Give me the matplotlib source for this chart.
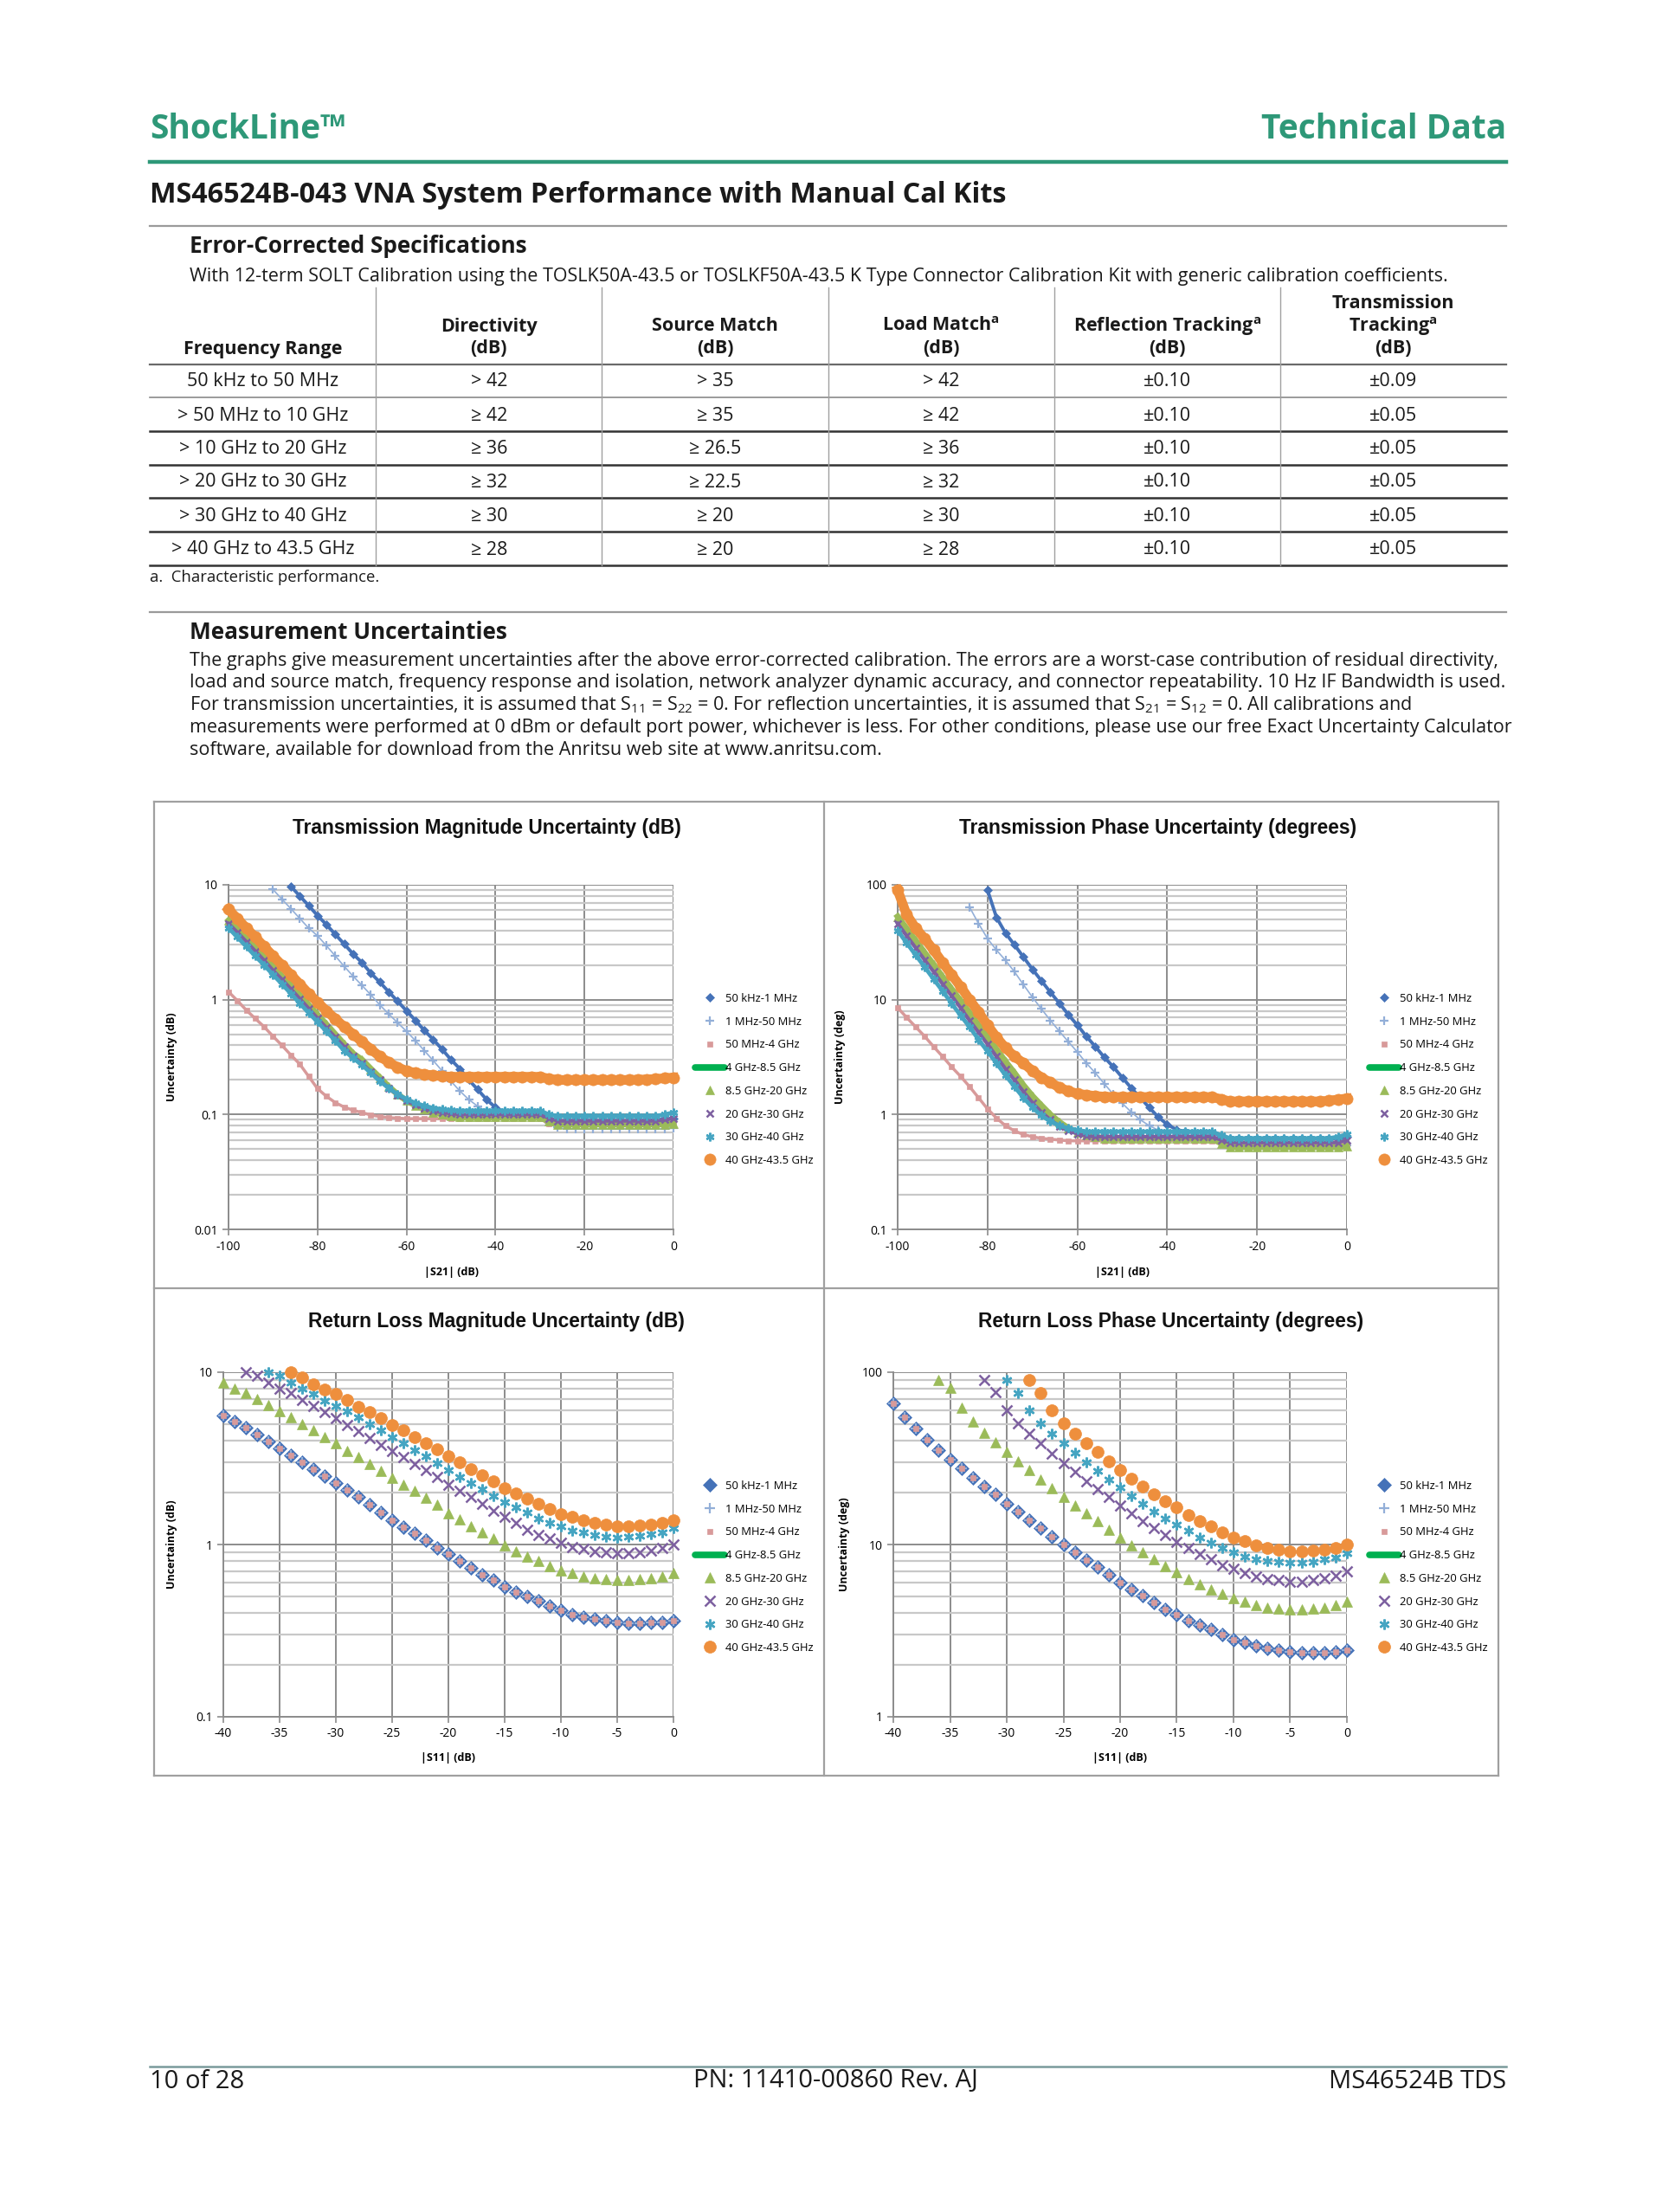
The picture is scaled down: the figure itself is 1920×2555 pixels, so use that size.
import numpy as np
import matplotlib as mpl
mpl.use('Agg')
import matplotlib.pyplot as plt
import matplotlib.ticker as mticker
from matplotlib.lines import Line2D

nan = np.nan

# ---------------------------------------------------------------- table data
freq_range = ["50 kHz to 50 MHz", "> 50 MHz to 10 GHz", "> 10 GHz to 20 GHz",
              "> 20 GHz to 30 GHz", "> 30 GHz to 40 GHz", "> 40 GHz to 43.5 GHz"]
directivity = ["> 42", "≥ 42", "≥ 36", "≥ 32", "≥ 30", "≥ 28"]
source_match = ["> 35", "≥ 35", "≥ 26.5", "≥ 22.5", "≥ 20", "≥ 20"]
load_match = ["> 42", "≥ 42", "≥ 36", "≥ 32", "≥ 30", "≥ 28"]
refl_tracking = ["±0.10", "±0.10", "±0.10", "±0.10", "±0.10", "±0.10"]
trans_tracking = ["±0.09", "±0.05", "±0.05", "±0.05", "±0.05", "±0.05"]

# ---------------------------------------------------------------- chart data
series_names = ["50 kHz-1 MHz", "1 MHz-50 MHz", "50 MHz-4 GHz", "4 GHz-8.5 GHz",
                "8.5 GHz-20 GHz", "20 GHz-30 GHz", "30 GHz-40 GHz", "40 GHz-43.5 GHz"]

# transmission: |S21| from -100 to 0 dB, 2 dB steps
s21_db = np.arange(-100, 1, 2)

tm_50k = [nan] * 7 + [9.7, 8.0, 6.6, 5.4, 4.5, 3.7, 3.05, 2.5, 2.1, 1.7, 1.42, 1.17, 0.97, 0.8,
                      0.66, 0.54, 0.45, 0.37, 0.3, 0.25, 0.2, 0.165, 0.135, 0.115, 0.105, 0.1,
                      0.1, 0.1, 0.1, 0.092] + [0.088] * 10 + [0.089, 0.09, 0.091, 0.093]
tm_1m = [nan] * 5 + [9.1, 7.5, 6.2, 5.1, 4.2, 3.6, 2.95, 2.4, 1.95, 1.6, 1.33, 1.1, 0.9, 0.75,
                     0.63, 0.53, 0.44, 0.36, 0.295, 0.24, 0.195, 0.16, 0.135, 0.118, 0.106, 0.1,
                     0.097, 0.096, 0.096, 0.096, 0.095, 0.085, 0.077] + [0.075] * 12 + [0.076]
tm_50m = [1.17, 0.98, 0.81, 0.685, 0.58, 0.48, 0.4, 0.33, 0.275, 0.215, 0.168, 0.144, 0.127,
          0.116, 0.109, 0.104, 0.099, 0.096, 0.094, 0.093] + [0.092] * 16 + [0.083] * 15
tm_8g = [4.9, 4.1, 3.4, 2.85, 2.35, 1.95, 1.6, 1.33, 1.1, 0.9, 0.74, 0.61, 0.5, 0.41, 0.34,
         0.3, 0.25, 0.21, 0.175, 0.15, 0.132, 0.12, 0.112, 0.105, 0.1, 0.097] + [0.095] * 10 + \
        [0.087] + [0.082] * 13 + [0.083]
tm_20g = [4.6, 3.85, 3.2, 2.65, 2.2, 1.8, 1.5, 1.24, 1.02, 0.84, 0.69, 0.57, 0.47, 0.39, 0.32,
          0.28, 0.235, 0.2, 0.17, 0.148, 0.132, 0.121, 0.114, 0.108, 0.104, 0.102] + [0.1] * 10 + \
         [0.093] + [0.088] * 12 + [0.09, 0.092]
tm_30g = [4.2, 3.5, 2.9, 2.4, 2.0, 1.65, 1.37, 1.13, 0.93, 0.77, 0.64, 0.53, 0.44, 0.36, 0.31,
          0.27, 0.23, 0.195, 0.17, 0.15, 0.136, 0.126, 0.119, 0.114, 0.111, 0.109] + [0.108] * 10 + \
         [0.1] + [0.097] * 12 + [0.1, 0.104]
tm_40g = [6.1, 5.07, 4.2, 3.5, 2.9, 2.4, 2.0, 1.65, 1.37, 1.13, 0.95, 0.8, 0.68, 0.58, 0.5, 0.43,
          0.37, 0.32, 0.285, 0.258, 0.24, 0.23, 0.224, 0.219, 0.216] + [0.213] * 11 + \
         [0.205] + [0.2] * 9 + [0.201, 0.202, 0.204, 0.207, 0.21]

tp_50k = [nan] * 10 + [90, 52, 38, 30, 23.5, 18.4, 14.6, 11.6, 9.3, 7.4, 6.0, 4.8, 3.9, 3.15, 2.6,
                       2.1, 1.7, 1.4, 1.15, 0.95, 0.82, 0.74, 0.71, 0.7, 0.7, 0.7, 0.65] + \
         [0.62] * 13 + [0.64]
tp_1m = [nan] * 8 + [64, 46, 34, 27, 22, 17.5, 13.5, 10.5, 8.3, 6.6, 5.3, 4.3, 3.5, 2.8, 2.3, 1.85,
                     1.5, 1.25, 1.05, 0.9, 0.8, 0.73, 0.7, 0.68, 0.68, 0.68, 0.68, 0.68, 0.6] + \
        [0.53] * 13 + [0.54]
tp_50m = [8.5, 7.0, 5.8, 4.8, 3.9, 3.2, 2.6, 2.15, 1.75, 1.4, 1.12, 0.93, 0.8, 0.72, 0.67, 0.64,
          0.62, 0.61, 0.6] + [0.59] * 17 + [0.55] * 15
tp_8g = [53, 41.6, 32.7, 25.7, 20.2, 15.8, 12.4, 9.8, 7.7, 6.0, 4.7, 3.7, 2.9, 2.3, 1.8, 1.45, 1.2,
         1.0, 0.86, 0.76, 0.7, 0.66, 0.64] + [0.62] * 13 + [0.56] + [0.52] * 13 + [0.53]
tp_20g = [46, 36, 28.3, 22.2, 17.5, 13.7, 10.8, 8.5, 6.6, 5.2, 4.1, 3.2, 2.5, 2.0, 1.58, 1.27, 1.05,
          0.9, 0.79, 0.72, 0.68, 0.65] + [0.64] * 14 + [0.6] + [0.57] * 13 + [0.6]
tp_30g = [40, 31.2, 24.5, 19.3, 15.1, 11.9, 9.3, 7.3, 5.8, 4.5, 3.55, 2.8, 2.2, 1.75, 1.4, 1.15,
          0.98, 0.87, 0.8, 0.76, 0.73] + [0.71] * 15 + [0.66] + [0.62] * 12 + [0.64, 0.67]
tp_40g = [90, 55, 42, 34, 27, 21, 16.5, 13, 10, 7.8, 6.0, 4.7, 3.8, 3.2, 2.8, 2.4, 2.1, 1.9, 1.72,
          1.6, 1.52, 1.48, 1.45, 1.43] + [1.42] * 12 + [1.36] + [1.3] * 11 + [1.32, 1.35, 1.38]

# return loss: |S11| from -40 to 0 dB, 1 dB steps
s11_db = np.arange(-40, 1, 1)

rlm_50k = [5.6, 5.17, 4.75, 4.33, 3.97, 3.62, 3.31, 3.01, 2.75, 2.5, 2.28,
           2.07, 1.88, 1.7, 1.54, 1.39, 1.26, 1.16, 1.06, 0.96, 0.88,
           0.8, 0.73, 0.67, 0.62, 0.57, 0.53, 0.5, 0.47, 0.44, 0.414,
           0.39, 0.38, 0.37, 0.36, 0.355, 0.35, 0.35, 0.352, 0.355, 0.36]
rlm_1m = rlm_50k
rlm_50m = rlm_50k
rlm_8g = [8.75, 8.04, 7.55, 7.0, 6.45, 5.95, 5.5, 5.0, 4.6, 4.2, 3.85,
          3.5, 3.2, 2.93, 2.68, 2.45, 2.23, 2.04, 1.86, 1.7, 1.52,
          1.4, 1.28, 1.17, 1.08, 0.99, 0.91, 0.85, 0.8, 0.75, 0.71,
          0.68, 0.65, 0.64, 0.63, 0.62, 0.62, 0.63, 0.64, 0.65, 0.68]
rlm_20g = [nan, nan, 10, 9.5, 8.75, 8.0, 7.55, 6.9, 6.4, 5.9, 5.4,
           4.95, 4.55, 4.15, 3.8, 3.5, 3.2, 2.93, 2.7, 2.47, 2.23,
           2.05, 1.88, 1.72, 1.57, 1.44, 1.33, 1.22, 1.14, 1.08, 1.02,
           0.97, 0.94, 0.91, 0.9, 0.89, 0.89, 0.9, 0.92, 0.95, 1.0]
rlm_30g = [nan, nan, nan, nan, 10, 9.5, 8.7, 8.0, 7.45, 6.85, 6.35,
           5.95, 5.45, 5.0, 4.6, 4.2, 3.88, 3.54, 3.26, 2.98, 2.72,
           2.48, 2.27, 2.09, 1.92, 1.77, 1.64, 1.53, 1.42, 1.33, 1.27,
           1.21, 1.17, 1.14, 1.11, 1.1, 1.11, 1.12, 1.15, 1.18, 1.25]
rlm_40g = [nan, nan, nan, nan, nan, nan, 10, 9.3, 8.55, 7.9, 7.45,
           6.9, 6.3, 5.9, 5.43, 4.95, 4.6, 4.22, 3.88, 3.57, 3.26,
           3.0, 2.75, 2.53, 2.33, 2.13, 1.98, 1.84, 1.72, 1.6, 1.5,
           1.44, 1.38, 1.33, 1.3, 1.28, 1.28, 1.29, 1.3, 1.33, 1.38]

rlp_50k = [65.6, 54.6, 46.9, 40.5, 35.4, 31.2, 27.7, 24.5, 21.8, 19.5, 17.3,
           15.5, 13.9, 12.4, 11.1, 10.0, 9.0, 8.1, 7.4, 6.7, 6.0,
           5.5, 5.05, 4.6, 4.2, 3.9, 3.6, 3.4, 3.2, 3.0, 2.8,
           2.7, 2.57, 2.5, 2.43, 2.37, 2.35, 2.35, 2.36, 2.38, 2.44]
rlp_1m = rlp_50k
rlp_50m = rlp_50k
rlp_8g = [nan, nan, nan, nan, 90, 81, 62, 52, 44.6, 39, 34.4,
          30.3, 26.9, 23.9, 21.2, 18.8, 16.9, 15.1, 13.6, 12.2, 11.0,
          9.9, 9.0, 8.2, 7.5, 6.9, 6.3, 5.9, 5.5, 5.15, 4.86,
          4.66, 4.47, 4.32, 4.23, 4.2, 4.2, 4.23, 4.32, 4.47, 4.65]
rlp_20g = [nan, nan, nan, nan, nan, nan, nan, nan, 90, 76.4, 60.4,
           50.6, 44.1, 38.5, 33.6, 29.7, 26.4, 23.4, 20.9, 18.8, 16.8,
           15.1, 13.7, 12.4, 11.4, 10.4, 9.5, 8.8, 8.2, 7.6, 7.2,
           6.8, 6.5, 6.3, 6.2, 6.1, 6.1, 6.2, 6.4, 6.6, 6.95]
rlp_30g = [nan, nan, nan, nan, nan, nan, nan, nan, nan, nan, 90,
           75.5, 59.8, 50.6, 44, 38.5, 34, 30, 26.6, 23.7, 21.4,
           19.2, 17.3, 15.6, 14.2, 13, 12, 11, 10.2, 9.5, 9.0,
           8.5, 8.2, 8.0, 7.9, 7.8, 7.85, 7.95, 8.2, 8.45, 8.95]
rlp_40g = [nan, nan, nan, nan, nan, nan, nan, nan, nan, nan, nan,
           nan, 90, 76, 60.4, 50.6, 44, 38.8, 34.4, 30.3, 27.2,
           24.2, 21.8, 19.6, 17.8, 16.4, 14.9, 13.6, 12.7, 11.8, 11.0,
           10.5, 9.9, 9.5, 9.3, 9.1, 9.1, 9.2, 9.3, 9.5, 9.95]

# ---------------------------------------------------------------- styling
W, H = 1920, 2555
GREEN = '#2e9878'
BODY = 15.5
plt.rcParams['font.family'] = ['Open Sans', 'DejaVu Sans']
plt.rcParams['axes.unicode_minus'] = False
plt.rcParams['mathtext.fontset'] = 'custom'
plt.rcParams['mathtext.rm'] = 'Open Sans'
plt.rcParams['mathtext.bf'] = 'Open Sans:bold'

# marker style per series: marker, colour, size, edge width, band width (transmission)
styles = [
    ('D', '#4572b8', 5.2, 0.5, 2.8),
    ('+', '#93afd8', 7.0, 1.6, 1.2),
    ('s', '#d89a9a', 3.8, 0.5, 2.5),
    (None, '#00b050', 0, 0, 0),
    ('^', '#9bbb59', 6.5, 0.5, 5.0),
    ('x', '#7d60a0', 6.0, 1.8, 3.0),
    ((6, 2, 0), '#46a5c2', 7.0, 1.8, 3.5),
    ('o', '#ee8f3d', 9.5, 0.5, 8.0),
]
rl_marker_size = {'D': 8, '+': 8, 's': 4, '^': 9, 'x': 8, 'o': 10}


def px(x, y):
    return x / W, 1 - y / H


def hline(fig, x0, x1, y, color, lw):
    fig.add_artist(Line2D([x0 / W, x1 / W], [1 - y / H, 1 - y / H], color=color, lw=lw))


def vline(fig, x, y0, y1, color, lw):
    fig.add_artist(Line2D([x / W, x / W], [1 - y0 / H, 1 - y1 / H], color=color, lw=lw))


def make_chart(fig, box, title, title_x, title_y, x, ys, xlim, xticks, ylim, xlabel, ylabel,
               ylab_x, xlab_y, leg_x, leg_y, dense):
    left, top, right, bottom = box
    ax = fig.add_axes([left / W, 1 - bottom / H, (right - left) / W, (bottom - top) / H])
    handles = []
    for vals, (mk, col, ms, mew, band) in zip(ys, styles):
        if mk is None:
            handles.append(Line2D([], [], color=col, lw=5.5, solid_capstyle='round'))
            continue
        if dense:
            ax.plot(x, vals, ls='-', lw=band, color=col, marker=mk, ms=ms, mew=mew,
                    mec=col, mfc=col, clip_on=False, zorder=3)
        else:
            ms = rl_marker_size.get(mk, 8.5)
            ax.plot(x, vals, ls='none', color=col, marker=mk, ms=ms, mew=mew, mec=col, mfc=col,
                    clip_on=False, zorder=3)
        handles.append(Line2D([], [], ls='none', color=col, marker=mk, ms=ms, mew=mew, mec=col,
                              mfc=col))
    ax.set_yscale('log')
    ax.set_xlim(xlim)
    ax.set_ylim(ylim)
    ax.set_xticks(xticks)
    ax.yaxis.set_major_locator(mticker.LogLocator(base=10))
    ax.yaxis.set_minor_locator(mticker.LogLocator(base=10, subs=np.arange(2, 10)))
    ax.yaxis.set_major_formatter(mticker.FuncFormatter(lambda v, p: f'{v:g}'))
    ax.yaxis.set_minor_formatter(mticker.NullFormatter())
    ax.grid(which='major', axis='both', color='#8c8c8c', lw=1.4, zorder=0)
    ax.grid(which='minor', axis='y', color='#c8c8c8', lw=1.6, zorder=0)
    ax.set_axisbelow(True)
    ax.tick_params(which='minor', length=0)
    ax.tick_params(which='major', length=5, width=1.2, direction='out', color='#8c8c8c',
                   labelsize=10, pad=4)
    for s in ['top', 'right']:
        ax.spines[s].set_visible(False)
    for s in ['left', 'bottom']:
        ax.spines[s].set_color('#8c8c8c')
        ax.spines[s].set_linewidth(1.4)
    ax.set_xlabel(xlabel, fontsize=9, fontweight='bold')
    ax.set_ylabel(ylabel, fontsize=9, fontweight='bold')
    ax.xaxis.set_label_coords(0.5, 1 - (xlab_y - top) / (bottom - top))
    ax.yaxis.set_label_coords((ylab_x - left) / (right - left), 0.5)
    fig.text(*px(title_x, title_y), title, ha='center', va='center', fontsize=16.4,
             fontweight='bold', family='Liberation Sans', color='#111111')
    ax.legend(handles, series_names, loc='upper left', bbox_to_anchor=px(leg_x, leg_y),
              bbox_transform=fig.transFigure, frameon=False, fontsize=9.4, handlelength=2.6,
              handletextpad=0.1, labelspacing=1.05, borderpad=0, borderaxespad=0)
    return ax


fig = plt.figure(figsize=(W / 100, H / 100), dpi=100)

# ---------------------------------------------------------------- page header
fig.text(*px(173, 150), "ShockLine™", fontsize=28, fontweight='bold', color=GREEN,
         ha='left', va='center')
fig.text(*px(1740, 150), "Technical Data", fontsize=28, fontweight='bold', color=GREEN,
         ha='right', va='center')
hline(fig, 173, 1740, 187, GREEN, 3.2)
fig.text(*px(173, 226), "MS46524B-043 VNA System Performance with Manual Cal Kits",
         fontsize=23.3, fontweight='bold', color='#1a1a1a', ha='left', va='center')
hline(fig, 173, 1740, 261, '#9a9a9a', 1.6)
fig.text(*px(219, 285), "Error-Corrected Specifications", fontsize=18.8, fontweight='bold',
         color='#1a1a1a', ha='left', va='center')
fig.text(*px(219, 319), "With 12-term SOLT Calibration using the TOSLK50A-43.5 or TOSLKF50A-43.5 "
         "K Type Connector Calibration Kit with generic calibration coefficients.",
         fontsize=BODY, color='#1a1a1a', ha='left', va='center')

# ---------------------------------------------------------------- spec table
col_w = 261.2
col_x = [173 + col_w * i + col_w / 2 for i in range(6)]
head = [["Frequency Range"], ["Directivity", "(dB)"], ["Source Match", "(dB)"],
        [r"Load Match$^{\mathbf{a}}$", "(dB)"], [r"Reflection Tracking$^{\mathbf{a}}$", "(dB)"],
        ["Transmission", r"Tracking$^{\mathbf{a}}$", "(dB)"]]
for cx, lines in zip(col_x, head):
    for k, txt in enumerate(reversed(lines)):
        fig.text(*px(cx, 403 - 26 * k), txt, fontsize=BODY, fontweight='bold', color='#1a1a1a',
                 ha='center', va='center')
row_y = [441, 480, 518, 557, 596, 635]
columns = [freq_range, directivity, source_match, load_match, refl_tracking, trans_tracking]
for cx, col in zip(col_x, columns):
    for ry, txt in zip(row_y, col):
        fig.text(*px(cx, ry), txt, fontsize=BODY, color='#1a1a1a', ha='center', va='center')
hline(fig, 173, 1740, 421, '#6a6a6a', 1.6)
hline(fig, 173, 1740, 459, '#8a8a8a', 1.2)
for yy in [498, 537, 575, 614, 653]:
    hline(fig, 173, 1740, yy, '#333333', 1.8)
for i in range(1, 6):
    vline(fig, 173 + col_w * i, 332, 653, '#a0a0a0', 1.0)
fig.text(*px(173, 667), "a.  Characteristic performance.", fontsize=13.3, color='#1a1a1a',
         ha='left', va='center')

# ---------------------------------------------------------------- uncertainty text
hline(fig, 173, 1740, 707, '#9a9a9a', 1.6)
fig.text(*px(219, 731), "Measurement Uncertainties", fontsize=18.8, fontweight='bold',
         color='#1a1a1a', ha='left', va='center')
para = [
    "The graphs give measurement uncertainties after the above error-corrected calibration. "
    "The errors are a worst-case contribution of residual directivity,",
    "load and source match, frequency response and isolation, network analyzer dynamic accuracy, "
    "and connector repeatability. 10 Hz IF Bandwidth is used.",
    r"For transmission uncertainties, it is assumed that S$_{11}$ = S$_{22}$ = 0. For reflection "
    r"uncertainties, it is assumed that S$_{21}$ = S$_{12}$ = 0. All calibrations and",
    "measurements were performed at 0 dBm or default port power, whichever is less. For other "
    "conditions, please use our free Exact Uncertainty Calculator",
    "software, available for download from the Anritsu web site at www.anritsu.com.",
]
for i, line in enumerate(para):
    fig.text(*px(219, 763 + 25.8 * i), line, fontsize=BODY, color='#1a1a1a', ha='left',
             va='center')

# ---------------------------------------------------------------- charts
box_l, box_t, box_r, box_b, mid_x, mid_y = 178, 926, 1731, 2051, 952, 1488
for yy in (box_t, mid_y, box_b):
    hline(fig, box_l, box_r, yy, '#a0a0a0', 1.6)
for xx in (box_l, mid_x, box_r):
    vline(fig, xx, box_t, box_b, '#a0a0a0', 1.6)

tm = [tm_50k, tm_1m, tm_50m, [], tm_8g, tm_20g, tm_30g, tm_40g]
tp = [tp_50k, tp_1m, tp_50m, [], tp_8g, tp_20g, tp_30g, tp_40g]
rlm = [rlm_50k, rlm_1m, rlm_50m, [], rlm_8g, rlm_20g, rlm_30g, rlm_40g]
rlp = [rlp_50k, rlp_1m, rlp_50m, [], rlp_8g, rlp_20g, rlp_30g, rlp_40g]

make_chart(fig, (264, 1022, 778, 1420), "Transmission Magnitude Uncertainty (dB)", 562, 957,
           s21_db, tm, (-100, 0), range(-100, 1, 20), (0.01, 10), "|S21| (dB)",
           "Uncertainty (dB)", 205, 1463, 803, 1147, dense=True)
make_chart(fig, (1037, 1022, 1556, 1420), "Transmission Phase Uncertainty (degrees)", 1338, 957,
           s21_db, tp, (-100, 0), range(-100, 1, 20), (0.1, 100), "|S21| (dB)",
           "Uncertainty (deg)", 977, 1463, 1582, 1147, dense=True)
make_chart(fig, (258, 1585, 778, 1983), "Return Loss Magnitude Uncertainty (dB)", 573, 1527,
           s11_db, rlm, (-40, 0), range(-40, 1, 5), (0.1, 10), "|S11| (dB)",
           "Uncertainty (dB)", 205, 2024, 803, 1710, dense=False)
make_chart(fig, (1032, 1585, 1556, 1983), "Return Loss Phase Uncertainty (degrees)", 1353, 1527,
           s11_db, rlp, (-40, 0), range(-40, 1, 5), (1, 100), "|S11| (dB)",
           "Uncertainty (deg)", 982, 2024, 1582, 1710, dense=False)

# ---------------------------------------------------------------- footer
hline(fig, 173, 1740, 2387, '#7a9a9c', 1.8)
fig.text(*px(173, 2404), "10 of 28", fontsize=21, color='#1a1a1a', ha='left', va='center')
fig.text(*px(965, 2404), "PN: 11410-00860 Rev. AJ", fontsize=21, color='#1a1a1a',
         ha='center', va='center')
fig.text(*px(1740, 2404), "MS46524B TDS", fontsize=21, color='#1a1a1a', ha='right',
         va='center')

fig.savefig('out.png', dpi=100, facecolor='white')
